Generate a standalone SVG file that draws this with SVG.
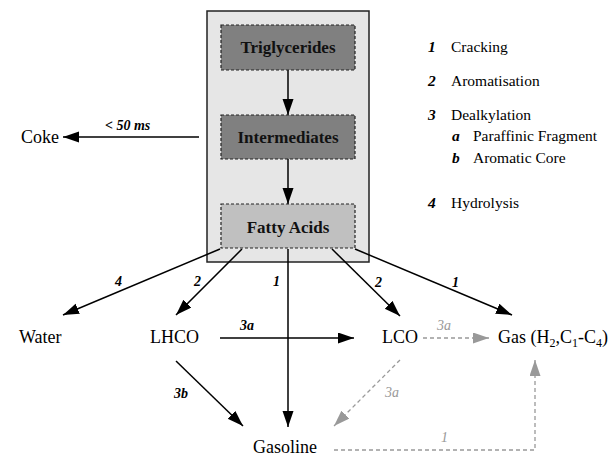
<svg xmlns="http://www.w3.org/2000/svg" width="616" height="457" viewBox="0 0 616 457" font-family="Liberation Serif, Times New Roman, serif">
<style>
.t{font-size:18px;fill:#000}
.b{font-size:17px;font-weight:bold;fill:#111;text-anchor:middle}
.n{font-size:14px;font-weight:bold;font-style:italic;fill:#000}
.ng{font-size:14px;font-style:italic;fill:#999}
.lg{font-size:15.5px;fill:#000}
.ln{font-size:15.5px;font-weight:bold;font-style:italic;fill:#000}
.e{fill:none;stroke:#000;stroke-width:1.5}
.g{fill:none;stroke:#999;stroke-width:1.3;stroke-dasharray:4,3}
.box{stroke:#222;stroke-width:1.2;stroke-dasharray:3,2}
</style>
<defs>
<marker id="a" markerUnits="userSpaceOnUse" markerWidth="16" markerHeight="12" refX="16" refY="5.5" orient="auto"><path d="M0,0 L16,5.5 L0,11 z" fill="#000"/></marker>
<marker id="ag" markerUnits="userSpaceOnUse" markerWidth="16" markerHeight="12" refX="16" refY="5.5" orient="auto"><path d="M0,0 L16,5.5 L0,11 z" fill="#999"/></marker>
</defs>
<rect id="reactor" x="207" y="11" width="162" height="251" fill="#e6e6e6" stroke="#222" stroke-width="1.5"/>
<g id="connectors">
<line class="e" x1="288" y1="70" x2="288" y2="115" marker-end="url(#a)"/>
<line class="e" x1="288" y1="159" x2="288" y2="204" marker-end="url(#a)"/>
<line class="e" x1="199" y1="137" x2="63" y2="137" marker-end="url(#a)"/>
<line class="e" x1="220" y1="249" x2="63" y2="315" marker-end="url(#a)"/>
<line class="e" x1="242" y1="249" x2="176" y2="315" marker-end="url(#a)"/>
<line class="e" x1="288" y1="249" x2="288" y2="427" marker-end="url(#a)"/>
<line class="e" x1="332" y1="249" x2="400" y2="316" marker-end="url(#a)"/>
<line class="e" x1="355" y1="249" x2="512" y2="315" marker-end="url(#a)"/>
<line class="e" x1="220" y1="338" x2="354" y2="338" marker-end="url(#a)"/>
<line class="e" x1="176" y1="361" x2="243" y2="426" marker-end="url(#a)"/>
<line class="g" x1="423" y1="338" x2="489" y2="338" marker-end="url(#ag)"/>
<line class="g" x1="400" y1="360" x2="334" y2="426" marker-end="url(#ag)"/>
<polyline class="g" points="334,450 535,450 535,360" marker-end="url(#ag)"/>
<text class="n" x="105" y="130">&lt; 50 ms</text>
<text class="n" x="115" y="286">4</text>
<text class="n" x="194" y="286">2</text>
<text class="n" x="273" y="286">1</text>
<text class="n" x="375" y="287">2</text>
<text class="n" x="452" y="287">1</text>
<text class="n" x="240" y="330">3a</text>
<text class="n" x="174" y="398">3b</text>
<text class="ng" x="437" y="330">3a</text>
<text class="ng" x="385" y="397">3a</text>
<text class="ng" x="441" y="442">1</text>
</g>
<g id="triglycerides"><rect class="box" x="221" y="25" width="134" height="45" fill="#808080"/><text class="b" x="288" y="53">Triglycerides</text></g>
<g id="intermediates"><rect class="box" x="221" y="115" width="134" height="44" fill="#808080"/><text class="b" x="288" y="143">Intermediates</text></g>
<g id="fattyacids"><rect class="box" x="221" y="204" width="134" height="44" fill="#c0c0c0"/><text class="b" x="288" y="233">Fatty Acids</text></g>
<g id="coke"><text class="t" x="21" y="143">Coke</text></g>
<g id="water"><text class="t" x="19" y="343">Water</text></g>
<g id="lhco"><text class="t" x="150" y="343">LHCO</text></g>
<g id="lco"><text class="t" x="382" y="343">LCO</text></g>
<g id="gas"><text class="t" x="498" y="343">Gas (H<tspan font-size="12" dy="4">2</tspan><tspan dy="-4">,C</tspan><tspan font-size="12" dy="4">1</tspan><tspan dy="-4">-C</tspan><tspan font-size="12" dy="4">4</tspan><tspan dy="-4">)</tspan></text></g>
<g id="gasoline"><text class="t" x="253" y="453">Gasoline</text></g>
<g id="legend">
<text class="ln" x="428" y="52">1</text><text class="lg" x="451" y="52">Cracking</text>
<text class="ln" x="428" y="86">2</text><text class="lg" x="451" y="86">Aromatisation</text>
<text class="ln" x="428" y="120">3</text><text class="lg" x="451" y="120">Dealkylation</text>
<text class="ln" x="452" y="141">a</text><text class="lg" x="473" y="141">Paraffinic Fragment</text>
<text class="ln" x="452" y="163">b</text><text class="lg" x="473" y="163">Aromatic Core</text>
<text class="ln" x="428" y="208">4</text><text class="lg" x="451" y="208">Hydrolysis</text>
</g>
</svg>
